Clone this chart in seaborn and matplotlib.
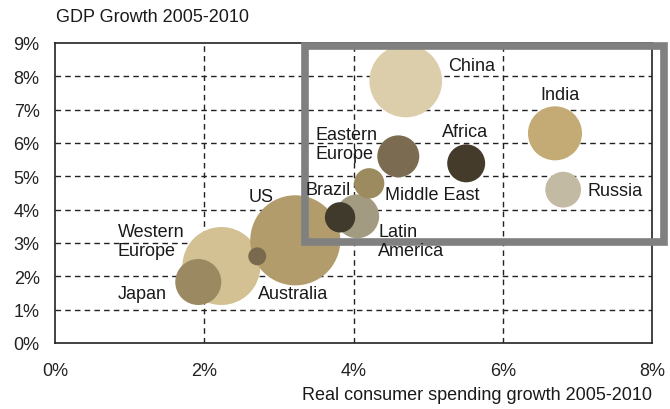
import matplotlib
matplotlib.use("Agg")
import matplotlib.pyplot as plt
import matplotlib.patches as mpatches
import seaborn as sns
import pandas as pd

# ---- data ----
regions = ["Western Europe", "Japan", "Australia", "US", "China", "India",
           "Eastern Europe", "Africa", "Russia", "Latin America", "Brazil", "Middle East"]
spending_growth = [2.23, 1.92, 3.22, 2.71, 4.70, 6.70, 4.60, 5.51, 6.81, 4.05, 3.82, 4.21]
gdp_growth = [2.31, 1.83, 3.08, 2.60, 7.86, 6.29, 5.60, 5.39, 4.60, 3.80, 3.77, 4.79]
bubble_size = [15.2, 5.3, 20.3, 0.8, 13.2, 7.3, 4.4, 3.6, 3.2, 4.8, 2.3, 2.3]
colors = ["#D3C194", "#9B8962", "#B29C6B", "#7A6A4D", "#DCCEAA", "#C4AA74",
          "#7B6C51", "#443B2B", "#C3BAA4", "#A39A82", "#3F3A2B", "#9C8B5E"]
x_ticks = [0, 2, 4, 6, 8]
y_ticks = [0, 1, 2, 3, 4, 5, 6, 7, 8, 9]

df = pd.DataFrame({"region": regions, "x": spending_growth, "y": gdp_growth,
                   "size": bubble_size})

# ---- layout ----
label_pos = {
    "China": (5.27, 8.32), "India": (6.51, 7.46), "Africa": (5.19, 6.35),
    "Eastern\nEurope": (3.49, 5.96), "Brazil": (3.36, 4.61),
    "Middle East": (4.42, 4.46), "Russia": (7.13, 4.58), "US": (2.59, 4.40),
    "Latin\nAmerica": (4.33, 3.05), "Western\nEurope": (0.84, 3.05),
    "Japan": (0.84, 1.47), "Australia": (2.72, 1.47),
}

sns.set_style("white")
plt.rcParams["font.family"] = ["Liberation Sans", "DejaVu Sans"]

fig = plt.figure(figsize=(6.7, 4.1), dpi=100)
ax = fig.add_axes([55 / 670, 1 - 344 / 410, 597 / 670, 300 / 410])

max_size = max(bubble_size)
px_per_unit = 45.0 ** 2 / 20.25  # radius^2 in px per size unit
max_area = (2 * (max_size * px_per_unit) ** 0.5 * 72 / 100) ** 2

sns.scatterplot(data=df, x="x", y="y", size="size", hue="region",
                palette=dict(zip(regions, colors)), sizes=(0, max_area),
                size_norm=(0, max_size), linewidth=0, alpha=1,
                legend=False, ax=ax, zorder=3)

ax.set_xlim(0, 8)
ax.set_ylim(0, 9)
ax.set_xticks(x_ticks)
ax.set_xticklabels([f"{t}%" for t in x_ticks], fontsize=13, color="#222222")
ax.set_yticks(y_ticks)
ax.set_yticklabels([f"{t}%" for t in y_ticks], fontsize=13, color="#222222")
ax.tick_params(axis="x", length=6, width=1, color="#222222", direction="out", pad=8)
ax.tick_params(axis="y", length=0, pad=11)
ax.set_xlabel("")
ax.set_ylabel("")

for t in [1, 2, 3, 4, 5, 6, 7, 8]:
    ax.axhline(t, color="#222222", lw=1, ls=(0, (4, 3)), zorder=1)
for t in [2, 4, 6]:
    ax.axvline(t, color="#222222", lw=1, ls=(0, (4, 3)), zorder=1)

for s in ax.spines.values():
    s.set_color("#222222")
    s.set_linewidth(1.2)

for name, (lx, ly) in label_pos.items():
    ax.text(lx, ly, name, ha="left", va="center", fontsize=13,
            color="#1a1a1a", linespacing=1.15, zorder=5)

# highlight box
box = mpatches.Rectangle((3.35, 3.02), 8.16 - 3.35, 8.9 - 3.02, fill=False,
                         edgecolor="#808080", linewidth=5.5, clip_on=False, zorder=4)
ax.add_patch(box)

fig.text(56 / 670, 1 - 17 / 410, "GDP Growth 2005-2010", ha="left", va="center",
         fontsize=13, color="#1a1a1a")
fig.text(652 / 670, 1 - 396 / 410, "Real consumer spending growth 2005-2010",
         ha="right", va="center", fontsize=13, color="#1a1a1a")

fig.savefig("out.png", dpi=100)
